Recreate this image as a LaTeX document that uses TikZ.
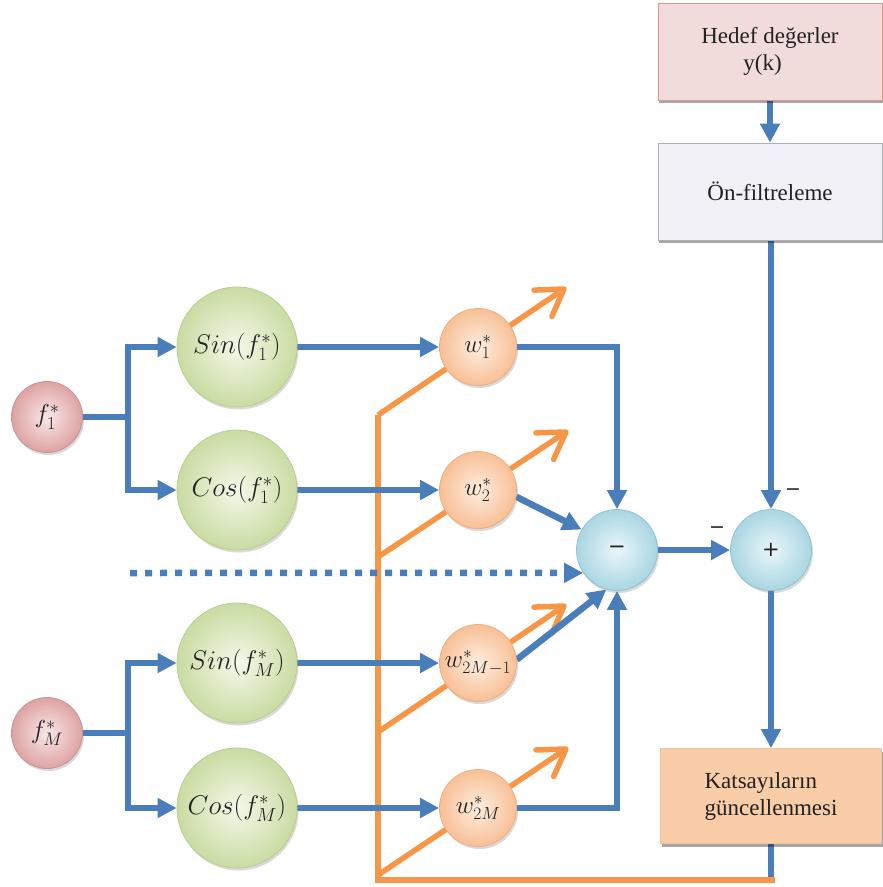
\RequirePackage{fix-cm}
\documentclass[tikz,border=0pt]{standalone}
\usepackage{fontspec}
\setmainfont{Liberation Serif}
\newfontfamily\signfont{DejaVu Sans}
\usetikzlibrary{arrows.meta,shadows,backgrounds,calc}
\definecolor{lineblue}{HTML}{4A7EBB}
\definecolor{lineorange}{HTML}{F79646}
\definecolor{greenI}{HTML}{F4F8EA}
\definecolor{greenO}{HTML}{C9DCA2}
\definecolor{greenB}{HTML}{B8CE90}
\definecolor{pinkI}{HTML}{F9E8E8}
\definecolor{pinkO}{HTML}{DDA3A2}
\definecolor{pinkB}{HTML}{CC9290}
\definecolor{orI}{HTML}{FEEEE0}
\definecolor{orO}{HTML}{F8C096}
\definecolor{orB}{HTML}{F0AE7E}
\definecolor{cyI}{HTML}{EAF6F9}
\definecolor{cyO}{HTML}{A9D6E2}
\definecolor{cyB}{HTML}{8EC4D2}
\definecolor{hedefF}{HTML}{F2DCDB}
\definecolor{hedefB}{HTML}{D99694}
\definecolor{onF}{HTML}{F3F1F8}
\definecolor{onB}{HTML}{B0B0B8}
\definecolor{katsF}{HTML}{F9CDA8}
\definecolor{katsB}{HTML}{F2C29A}
\definecolor{txt}{HTML}{222222}
\begin{document}
\begin{tikzpicture}[x=1pt,y=-1pt,
  bl/.style={line width=6.5pt,draw=lineblue},
  blarrow/.style={bl,-{Triangle[length=19pt,width=19pt]}},
  orl/.style={line width=5.5pt,draw=lineorange},
  orshaft/.style={orl,shorten >=3pt},
  orhead/.style={orl,line cap=round,line join=round},
  ball/.style={circle,inner sep=0pt,line width=0.8pt,text=txt,
    drop shadow={shadow xshift=1.5pt,shadow yshift=-2.5pt,opacity=0.3}},
  fball/.style={ball,minimum size=71pt,draw=pinkB,inner color=pinkI,outer color=pinkO,font=\fontsize{26}{30}\selectfont},
  trigball/.style={ball,minimum size=120pt,draw=greenB,inner color=greenI,outer color=greenO,font=\fontsize{27}{31}\selectfont},
  wball/.style={ball,minimum size=77pt,draw=orB,inner color=orI,outer color=orO,font=\fontsize{25}{29}\selectfont},
  sumball/.style={ball,minimum size=81pt,draw=cyB,inner color=cyI,outer color=cyO,font=\signfont\fontsize{21}{24}\selectfont},
  box/.style={rectangle,inner sep=0pt,line width=0.8pt,text=txt,font=\fontsize{23}{27}\selectfont,
    drop shadow={shadow xshift=1pt,shadow yshift=-3pt,fill=black,opacity=0.35}},
  sign/.style={inner sep=0pt,text=txt,font=\signfont\fontsize{19}{22}\selectfont}
]
\useasboundingbox (0,0) rectangle (883,887);

% boxes
\node[box,minimum width=224pt,minimum height=97pt,fill=hedefF,draw=hedefB,align=left] (hedef) at (770,51.5) {Hedef de\u{g}erler\\\hspace*{42pt}y(k)};
\node[box,minimum width=224pt,minimum height=97pt,fill=onF,draw=onB] (on) at (770,191.5) {Ön-filtreleme};
\node[box,minimum width=221pt,minimum height=95pt,fill=katsF,draw=katsB,align=left] (kats) at (771,796) {Katsayıların\\güncellenmesi};

% input circles
\node[fball] (f1) at (47,417) {$f_1^*$};
\node[fball] (fM) at (47,733) {$f_M^*$};
\node[trigball] (s1) at (237,347) {$Sin(f_1^*)$};
\node[trigball] (c1) at (237,490) {$Cos(f_1^*)$};
\node[trigball] (sM) at (237,663) {$Sin(f_M^*)$};
\node[trigball] (cM) at (237,808) {$Cos(f_M^*)$};
\node[wball] (w1) at (478,347) {$w_1^*$};
\node[wball] (w2) at (478,490) {$w_2^*$};
\node[wball] (w3) at (478,663) {$w_{2M-1}^*$};
\node[wball] (w4) at (478,808) {$w_{2M}^*$};
\node[sumball] (minus) at (617,550) {−};
\node[sumball] (plus) at (771,550) {+};
\node[sign] (sgA) at (793,492) {−};
\node[sign] (sgB) at (717,530) {−};

% coordinates
\coordinate (j1) at (128,417);
\coordinate (jM) at (128,733);
\coordinate (dots) at (130,573);
\coordinate (o1) at (378,415);
\coordinate (o2) at (378,557);
\coordinate (o3) at (378,732);
\coordinate (o4) at (378,875);
\coordinate (ob) at (378,880);
\coordinate (t1) at (564,289);
\coordinate (t2) at (566,432);
\coordinate (t3) at (564,606);
\coordinate (t4) at (566,749);
\coordinate (ke) at (775,880);

\begin{pgfonlayer}{background}
  % blue from update box down to the orange feedback line
  \draw[bl] (kats.south) -- (kats.south |- ob);
  % orange feedback lines
  \draw[orl,line join=miter] (ke) -- (ob) -- (o1);
  \foreach \i in {1,2,3,4} {
    \draw[orshaft] (o\i) -- (t\i);
    \draw[orhead] ($(t\i)!30pt!32:(o\i)$) -- (t\i) -- ($(t\i)!30pt!-32:(o\i)$);
  }
  % input branches
  \draw[bl] (f1.east) -- (j1);
  \draw[blarrow] (j1) |- (s1.west);
  \draw[blarrow] (j1) |- (c1.west);
  \draw[bl] (fM.east) -- (jM);
  \draw[blarrow] (jM) |- (sM.west);
  \draw[blarrow] (jM) |- (cM.west);
  % to weights
  \draw[blarrow] (s1.east) -- (w1.west);
  \draw[blarrow] (c1.east) -- (w2.west);
  \draw[blarrow] (sM.east) -- (w3.west);
  \draw[blarrow] (cM.east) -- (w4.west);
  % to summer
  \draw[blarrow] (w1.east) -| (minus.north);
  \draw[blarrow] (w2.-10) -- (minus.150);
  \draw[blarrow,dash pattern=on 7pt off 8pt] (dots) -- (minus.214);
  \draw[blarrow] (w3.5) -- (minus.-105);
  \draw[blarrow] (w4.east) -| (minus.south);
  % right column
  \draw[blarrow] (hedef.south) -- (on.north);
  \draw[blarrow] (on.south -| plus.north) -- (plus.north);
  \draw[blarrow] (minus.east) -- (plus.west);
  \draw[blarrow] (plus.south) -- (plus.south |- kats.north);
\end{pgfonlayer}
\end{tikzpicture}
\end{document}
